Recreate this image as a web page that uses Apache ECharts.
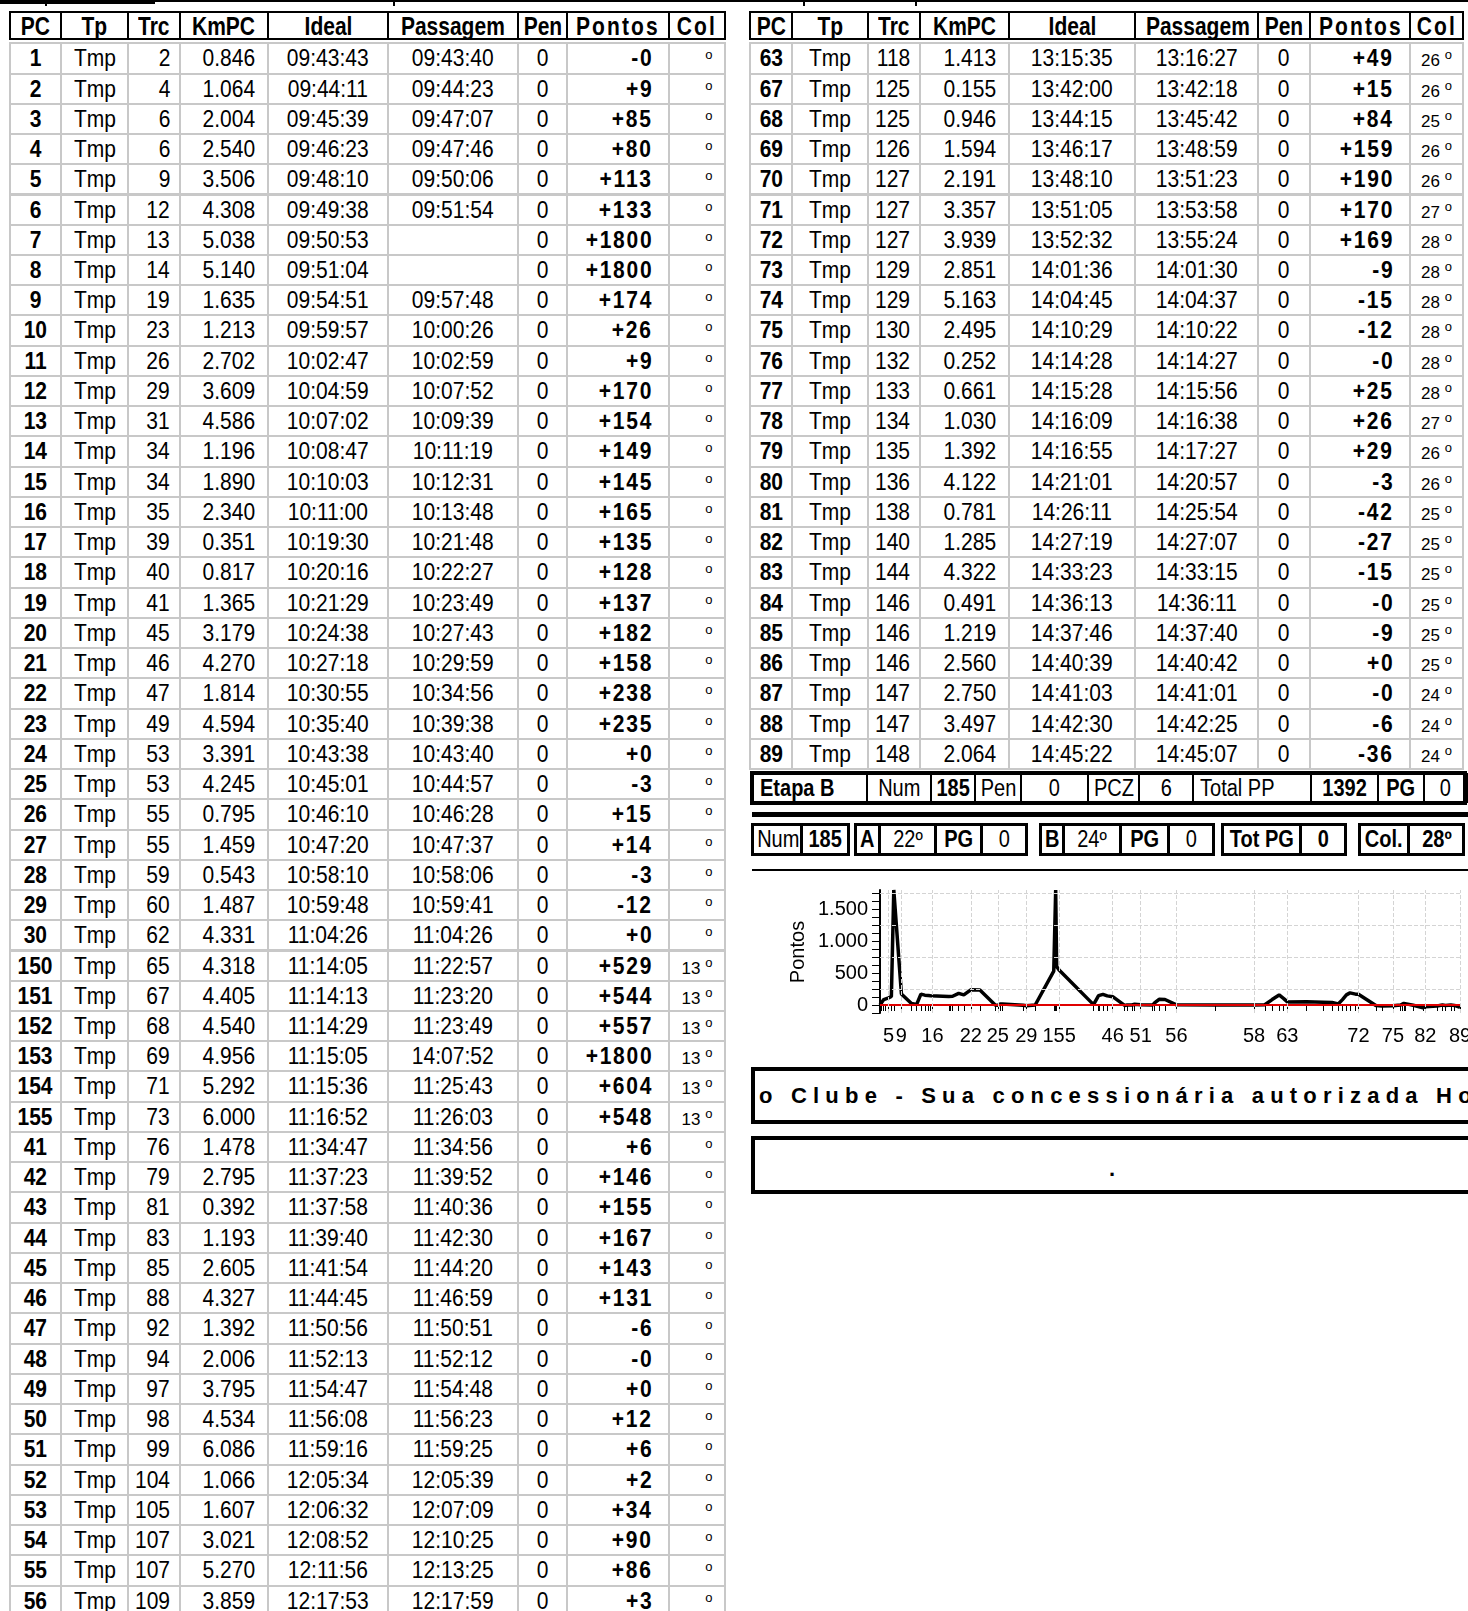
<!DOCTYPE html>
<html>
<head>
<meta charset="utf-8">
<script src="https://cdn.jsdelivr.net/npm/echarts@6/dist/echarts.min.js"></script>
<style>
body{margin:0;width:1468px;height:1611px;overflow:hidden;background:#fff;position:relative;color:#000;
  font-family:"Liberation Sans",Arial,sans-serif}
.c{position:absolute;box-sizing:border-box;white-space:nowrap;overflow:hidden;font-size:24px}
.h{border:2px solid #000;font-weight:bold;text-align:center;font-size:25px}
.b{border:2px solid #c8c8c8}
.k{position:absolute;box-sizing:border-box;border:2px solid #000;white-space:nowrap;overflow:hidden;font-size:23px;text-align:center}
.s{display:inline-block;transform-origin:50% 50%}
#chart{position:absolute;left:750px;top:860px;width:718px;height:200px}
</style>
</head>
<body>
<div id="page"></div>
<div id="chart"></div>
<script>
// left table
const leftPC = [1,2,3,4,5,6,7,8,9,10,11,12,13,14,15,16,17,18,19,20,21,22,23,24,25,26,27,28,29,30,150,151,152,153,154,155,41,42,43,44,45,46,47,48,49,50,51,52,53,54,55,56];
const leftTrc = [2,4,6,6,9,12,13,14,19,23,26,29,31,34,34,35,39,40,41,45,46,47,49,53,53,55,55,59,60,62,65,67,68,69,71,73,76,79,81,83,85,88,92,94,97,98,99,104,105,107,107,109];
const leftKm = ['0.846','1.064','2.004','2.540','3.506','4.308','5.038','5.140','1.635','1.213','2.702','3.609','4.586','1.196','1.890','2.340','0.351','0.817','1.365','3.179','4.270','1.814','4.594','3.391','4.245','0.795','1.459','0.543','1.487','4.331','4.318','4.405','4.540','4.956','5.292','6.000','1.478','2.795','0.392','1.193','2.605','4.327','1.392','2.006','3.795','4.534','6.086','1.066','1.607','3.021','5.270','3.859'];
const leftIdeal = ['09:43:43','09:44:11','09:45:39','09:46:23','09:48:10','09:49:38','09:50:53','09:51:04','09:54:51','09:59:57','10:02:47','10:04:59','10:07:02','10:08:47','10:10:03','10:11:00','10:19:30','10:20:16','10:21:29','10:24:38','10:27:18','10:30:55','10:35:40','10:43:38','10:45:01','10:46:10','10:47:20','10:58:10','10:59:48','11:04:26','11:14:05','11:14:13','11:14:29','11:15:05','11:15:36','11:16:52','11:34:47','11:37:23','11:37:58','11:39:40','11:41:54','11:44:45','11:50:56','11:52:13','11:54:47','11:56:08','11:59:16','12:05:34','12:06:32','12:08:52','12:11:56','12:17:53'];
const leftPass = ['09:43:40','09:44:23','09:47:07','09:47:46','09:50:06','09:51:54','','','09:57:48','10:00:26','10:02:59','10:07:52','10:09:39','10:11:19','10:12:31','10:13:48','10:21:48','10:22:27','10:23:49','10:27:43','10:29:59','10:34:56','10:39:38','10:43:40','10:44:57','10:46:28','10:47:37','10:58:06','10:59:41','11:04:26','11:22:57','11:23:20','11:23:49','14:07:52','11:25:43','11:26:03','11:34:56','11:39:52','11:40:36','11:42:30','11:44:20','11:46:59','11:50:51','11:52:12','11:54:48','11:56:23','11:59:25','12:05:39','12:07:09','12:10:25','12:13:25','12:17:59'];
const leftPts = ['-0','+9','+85','+80','+113','+133','+1800','+1800','+174','+26','+9','+170','+154','+149','+145','+165','+135','+128','+137','+182','+158','+238','+235','+0','-3','+15','+14','-3','-12','+0','+529','+544','+557','+1800','+604','+548','+6','+146','+155','+167','+143','+131','-6','-0','+0','+12','+6','+2','+34','+90','+86','+3'];
const leftCol = ['','','','','','','','','','','','','','','','','','','','','','','','','','','','','','','13','13','13','13','13','13','','','','','','','','','','','','','','','',''];

// right table
const rightPC = [63,67,68,69,70,71,72,73,74,75,76,77,78,79,80,81,82,83,84,85,86,87,88,89];
const rightTrc = [118,125,125,126,127,127,127,129,129,130,132,133,134,135,136,138,140,144,146,146,146,147,147,148];
const rightKm = ['1.413','0.155','0.946','1.594','2.191','3.357','3.939','2.851','5.163','2.495','0.252','0.661','1.030','1.392','4.122','0.781','1.285','4.322','0.491','1.219','2.560','2.750','3.497','2.064'];
const rightIdeal = ['13:15:35','13:42:00','13:44:15','13:46:17','13:48:10','13:51:05','13:52:32','14:01:36','14:04:45','14:10:29','14:14:28','14:15:28','14:16:09','14:16:55','14:21:01','14:26:11','14:27:19','14:33:23','14:36:13','14:37:46','14:40:39','14:41:03','14:42:30','14:45:22'];
const rightPass = ['13:16:27','13:42:18','13:45:42','13:48:59','13:51:23','13:53:58','13:55:24','14:01:30','14:04:37','14:10:22','14:14:27','14:15:56','14:16:38','14:17:27','14:20:57','14:25:54','14:27:07','14:33:15','14:36:11','14:37:40','14:40:42','14:41:01','14:42:25','14:45:07'];
const rightPts = ['+49','+15','+84','+159','+190','+170','+169','-9','-15','-12','-0','+25','+26','+29','-3','-42','-27','-15','-0','-9','+0','-0','-6','-36'];
const rightCol = ['26','26','25','26','26','27','28','28','28','28','28','28','27','26','26','25','25','25','25','25','25','24','24','24'];

// PCs that only show up in the chart (rows not listed)
const hiddenPC = [57,58,59,60,61,62,64,65,66];
const hiddenIdeal = ['12:37:49','12:58:17','13:03:51','13:07:39','13:11:18','13:13:42','13:25:30','13:34:12','13:38:50'];
const hiddenPts = [0,0,5,85,157,100,50,45,40];

const labelPC = [5,9,16,22,25,29,155,46,51,56,58,63,72,75,82,89];
const yLabels = [0,500,1000,1500];
const yGrid = [250,750,1250,1750];

const header = ['PC','Tp','Trc','KmPC','Ideal','Passagem','Pen','Pontos','Col'];
const tipo = 'Tmp';
const pen = '0';

const leftEdges = [10,61,128,180,268,388,518,567,669,725];
const rightEdges = [750,792,868,920,1009,1135,1258,1310,1410,1463];
const rowTop = 43.3, pitch = 30.24;

const page = document.getElementById('page');
function cell(cls, x, y, w, h, html, style) {
  const d = document.createElement('div');
  d.className = cls;
  d.style.left = x + 'px'; d.style.top = y + 'px';
  d.style.width = w + 'px'; d.style.height = h + 'px';
  d.style.lineHeight = (h - 4) + 'px';
  if (style) d.style.cssText += style;
  d.innerHTML = html;
  page.appendChild(d);
  return d;
}
// narrow-looking text: bigger font squeezed sideways
function sq(text, k, origin) {
  return '<span class="s" style="transform:scaleX(' + k + ');transform-origin:' + (origin || 'center') + ' 50%">' + text + '</span>';
}

function drawTable(edges, pc, trc, km, ideal, pass, pts, col) {
  header.forEach((t, j) => {
    let st = '';
    if (t === 'Pontos' || t === 'Col') st = 'letter-spacing:2.5px;';
    cell('c h', edges[j] - 1, 10.5, edges[j+1] - edges[j] + 2, 29.5, sq(t, 0.84), st + 'line-height:26px;');
  });
  const styles = [
    'font-weight:bold;text-align:center;',
    'text-align:center;',
    'text-align:right;padding-right:9px;',
    'text-align:right;padding-right:12px;',
    'text-align:center;',
    'text-align:center;',
    'text-align:center;',
    'font-weight:bold;text-align:right;padding-right:15px;letter-spacing:2px;',
    'text-align:center;'
  ];
  pc.forEach((p, i) => {
    const y = rowTop + i * pitch;
    const vals = [p, tipo, trc[i], km[i], ideal[i], pass[i], pen, pts[i]];
    vals.forEach((v, j) => {
      const origin = styles[j].indexOf('right;') >= 0 ? 'right' : 'center';
      cell('c b', edges[j] - 1, y - 1, edges[j+1] - edges[j] + 2, pitch + 2, sq(v, 0.875, origin), styles[j]);
    });
    const deg = '<span style="visibility:' + (col[i] ? 'visible' : 'hidden') + ';font-size:17px">' + (col[i] || '13') +
      '</span><span style="font-size:13px;position:relative;top:-7px;margin-left:5px">o</span>';
    cell('c b', edges[8] - 1, y - 1, edges[9] - edges[8] + 2, pitch + 2, deg, styles[8]);
  });
}
drawTable(leftEdges, leftPC, leftTrc, leftKm, leftIdeal, leftPass, leftPts, leftCol);
drawTable(rightEdges, rightPC, rightTrc, rightKm, rightIdeal, rightPass, rightPts, rightCol);

// top remnants
cell('c', 0, 0, 155, 4, '', 'background:#000;');
cell('c', 0, 0, 1468, 1.5, '', 'background:#000;');
[45, 393, 803, 915].forEach(x => cell('c', x, 0, 2, 6, '', 'background:#000;'));

// Etapa B summary
const etapaEdges = [752,866,930,974,1020,1087,1138,1192,1310,1377,1423,1466];
const etapaText = ['Etapa B','Num','185','Pen','0','PCZ','6','Total PP','1392','PG','0'];
const etapaBold = [1,0,1,0,0,0,0,0,1,1,0];
cell('k', 750, 771, 717, 34, '', 'border-width:4px;');
etapaText.forEach((t, j) => {
  let st = etapaBold[j] ? 'font-weight:bold;' : '';
  let org = 'center';
  if (j === 0 || j === 7) { st += 'text-align:left;padding-left:6px;'; org = 'left'; }
  cell('k', etapaEdges[j], 773, etapaEdges[j+1] - etapaEdges[j] + 2, 30, sq(t, 0.87, org), st + 'line-height:26px;');
});
cell('c', 752, 812, 716, 5, '', 'background:#000;');

// second summary row, in groups
const groups = [
  [[752,801,'Num',0],[801,849,'185',1]],
  [[855,879,'A',1],[879,935,'22º',0],[935,981,'PG',1],[981,1027,'0',0]],
  [[1040,1063,'B',1],[1063,1120,'24º',0],[1120,1168,'PG',1],[1168,1214,'0',0]],
  [[1222,1300,'Tot PG',1],[1300,1346,'0',1]],
  [[1359,1408,'Col.',1],[1408,1464,'28º',1]]
];
groups.forEach(g => {
  const x0 = g[0][0], x1 = g[g.length-1][1];
  cell('k', x0 - 1, 823, x1 - x0 + 2, 33, '', 'border-width:3px;');
  g.forEach(c => cell('k', c[0], 824, c[1] - c[0] + 1, 31, sq(c[2], 0.87), (c[3] ? 'font-weight:bold;' : '') + 'line-height:27px;'));
});
cell('c', 752, 869, 716, 2, '', 'background:#000;');

// banner boxes
cell('k', 751, 1067, 730, 57, '', 'border-width:4px;');
cell('c', 756, 1071, 712, 49, 'o Clube - Sua concessionária autorizada Honda', 'font-weight:bold;font-size:22px;letter-spacing:6.2px;line-height:49px;padding-left:3px;');
cell('k', 751, 1136, 730, 58, '', 'border-width:4px;');
cell('c', 1109, 1154, 14, 30, '.', 'font-weight:bold;font-size:22px;line-height:30px;');

// chart
function toSec(s) { const p = s.split(':').map(Number); return p[0]*3600 + p[1]*60 + p[2]; }
const pts = [];
const pcAt = {};
function addPts(pcs, ideals, vals) {
  pcs.forEach((p, i) => {
    const t = toSec(ideals[i]);
    pts.push([t, parseFloat(vals[i])]);
    pcAt[t] = p;
  });
}
addPts(leftPC, leftIdeal, leftPts);
addPts(rightPC, rightIdeal, rightPts);
addPts(hiddenPC, hiddenIdeal, hiddenPts);
pts.sort((a, b) => a[0] - b[0]);
const allTimes = pts.map(p => p[0]);
const tMin = allTimes[0], tMax = allTimes[allTimes.length - 1];
const labelTimes = labelPC.map(p => Number(Object.keys(pcAt).find(t => pcAt[t] === p)));
const yTicks = [];
for (let v = -125; v <= 1750; v += 125) yTicks.push(v);

function fmtY(v) {
  return v >= 1000 ? Math.floor(v / 1000) + '.' + String(v % 1000).padStart(3, '0') : String(v);
}

const chart = echarts.init(document.getElementById('chart'));
chart.setOption({
  animation: false,
  grid: { left: 130, right: 8, top: 30, height: 123, outerBoundsMode: 'none' },
  xAxis: {
    type: 'value', min: tMin, max: tMax,
    axisLine: { lineStyle: { color: '#000', width: 2 } },
    axisTick: { show: true, customValues: allTimes, length: 6, lineStyle: { color: '#000', width: 1 } },
    axisLabel: { customValues: labelTimes, formatter: v => String(pcAt[v]), color: '#000',
      fontSize: 20, fontFamily: 'Liberation Sans', margin: 13 },
    splitLine: { show: false }
  },
  yAxis: {
    type: 'value', min: -125, max: 1800,
    axisLine: { show: true, lineStyle: { color: '#000', width: 2 } },
    axisTick: { show: true, customValues: yTicks, length: 8, lineStyle: { color: '#000', width: 1 } },
    axisLabel: { customValues: yLabels, formatter: fmtY, color: '#000', fontSize: 20,
      fontFamily: 'Liberation Sans', margin: 12 },
    splitLine: { show: false }
  },
  graphic: [{
    type: 'text', x: 48, y: 92, rotation: Math.PI / 2,
    style: { text: 'Pontos', font: '20px "Liberation Sans"', fill: '#000', align: 'center', verticalAlign: 'middle' }
  }],
  series: [
    {
      type: 'line', data: pts, showSymbol: false, z: 3,
      lineStyle: { color: '#000', width: 3.5 },
      markLine: {
        silent: true, symbol: 'none', label: { show: false }, animation: false,
        lineStyle: { color: '#d4d4d4', type: 'dashed', width: 1 },
        data: yGrid.map(v => ({ yAxis: v })).concat(labelTimes.map(t => ({ xAxis: t })))
      }
    },
    {
      type: 'line', data: [[tMin, 0], [tMax, 0]], showSymbol: false, z: 4,
      lineStyle: { color: '#e00000', width: 2 }
    }
  ]
});
</script>
</body>
</html>
